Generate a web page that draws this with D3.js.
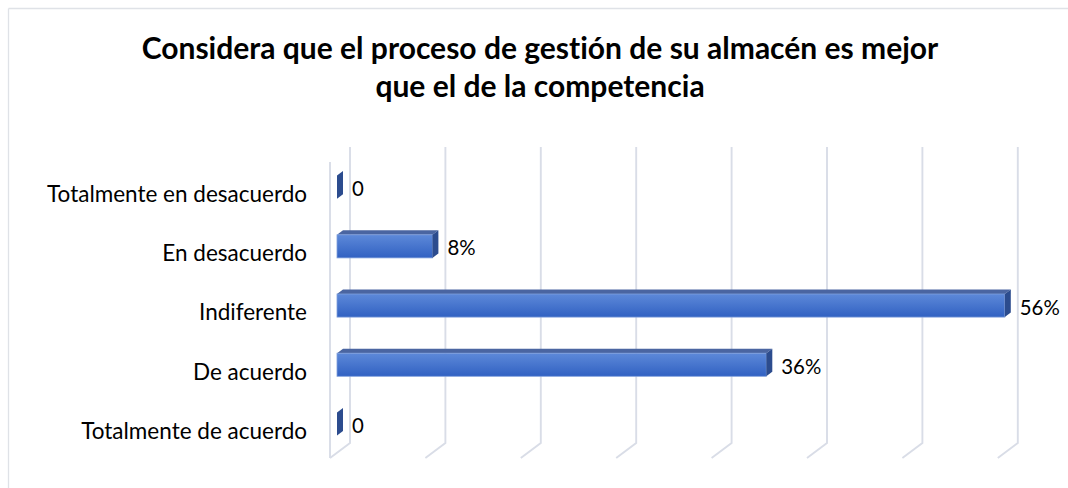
<!DOCTYPE html>
<html><head><meta charset="utf-8">
<script src="https://cdn.jsdelivr.net/npm/d3@7"></script>
<style>html,body{margin:0;padding:0;background:#fff;}svg{display:block;}text{font-variant-ligatures:none;font-feature-settings:"liga" 0;}</style>
</head><body>
<script>
const titleLines = ["Considera que el proceso de gestión de su almacén es mejor", "que el de la competencia"];
const categories = ["Totalmente en desacuerdo", "En desacuerdo", "Indiferente", "De acuerdo", "Totalmente de acuerdo"];
const values = [0, 0.08, 0.56, 0.36, 0];
const valueLabels = ["0", "8%", "56%", "36%", "0"];
const tickValues = [0, 0.08, 0.16, 0.24, 0.32, 0.40, 0.48, 0.56];

const W = 1068, H = 488;
const FONT = "Lato, 'Open Sans', sans-serif";
const svg = d3.select("body").append("svg").attr("width", W).attr("height", H);

// chart border (top and left visible)
svg.append("line").attr("x1", 8.5).attr("x2", W).attr("y1", 8.5).attr("y2", 8.5).attr("stroke", "#dfe2e7").attr("stroke-width", 1.3);
svg.append("line").attr("x1", 8.5).attr("x2", 8.5).attr("y1", 8.5).attr("y2", H).attr("stroke", "#dfe2e7").attr("stroke-width", 1.3);

// scales on the back wall
const x = d3.scaleLinear().domain([0, 0.56]).range([350, 1017.8]);
const y = d3.scaleBand().domain(categories).range([147, 443]);
const DX = -20, DY = 15; // depth offset back -> front
const proj = (px, py, d) => [px + DX * d, py + DY * d];
const D1 = 0.35, D2 = 0.65; // bar depth
const barH = y.bandwidth() * 0.39;

const grid = "#d9dde7";
const g = svg.append("g");
tickValues.forEach(t => {
  const xb = x(t);
  const top = y.range()[0], bot = y.range()[1];
  const f = proj(xb, bot, 1);
  g.append("path").attr("d", `M${xb},${top}L${xb},${bot}L${f[0]},${f[1]}`)
    .attr("fill", "none").attr("stroke", grid).attr("stroke-width", 1.9);
});
{
  const a = proj(x(0), y.range()[0], 1), b = proj(x(0), y.range()[1], 1);
  g.append("line").attr("x1", a[0]).attr("y1", a[1]).attr("x2", b[0]).attr("y2", b[1])
    .attr("stroke", grid).attr("stroke-width", 1.9);
}

const defs = svg.append("defs");
const grad = defs.append("linearGradient").attr("id", "fg").attr("x1", 0).attr("x2", 0).attr("y1", 0).attr("y2", 1);
grad.append("stop").attr("offset", "0%").attr("stop-color", "#5d89d9");
grad.append("stop").attr("offset", "100%").attr("stop-color", "#3161c2");

const poly = pts => "M" + pts.map(p => p.join(",")).join("L") + "Z";

const bars = svg.append("g");
categories.forEach((c, i) => {
  const v = values[i];
  const yc = y(c) + y.bandwidth() / 2 + 0.8;
  const yt = yc - barH / 2, yb = yc + barH / 2;
  const x0 = x(0), xv = x(v);
  if (v > 0) {
    bars.append("path").attr("d", poly([proj(x0, yt, D1), proj(xv, yt, D1), proj(xv, yt, D2), proj(x0, yt, D2)]))
      .attr("fill", "#4a65a1");
    const a = proj(x0, yt, D2), b = proj(xv, yb, D2);
    bars.append("rect").attr("x", a[0]).attr("y", a[1]).attr("width", b[0] - a[0]).attr("height", b[1] - a[1])
      .attr("fill", "url(#fg)").attr("stroke", "#7f9fdc").attr("stroke-width", 0.8);
  }
  bars.append("path").attr("d", poly([proj(xv, yt, D1), proj(xv, yb, D1), proj(xv, yb, D2), proj(xv, yt, D2)]))
    .attr("fill", "#2c4c8e");
  const lp = proj(xv, yc, D1);
  svg.append("text").attr("class", "dl").attr("x", lp[0] + 9).attr("y", yc + DY * D2 + 1)
    .attr("dominant-baseline", "central").attr("font-family", FONT).attr("font-size", 18)
    .attr("fill", "#000").text(valueLabels[i]);
  svg.append("text").attr("class", "cl").attr("x", 307).attr("y", yc + DY + 1)
    .attr("text-anchor", "end").attr("dominant-baseline", "central")
    .attr("font-family", FONT).attr("font-size", 18).attr("fill", "#000").text(c);
});

const tl = svg.append("g");
titleLines.forEach((t, i) => {
  tl.append("text").attr("x", 540).attr("y", 58.5 + i * 38.5).attr("text-anchor", "middle")
    .attr("font-family", FONT).attr("font-weight", "bold").attr("font-size", 25).attr("fill", "#000").text(t);
});

function fit(sel, idx, target) {
  const n = sel.nodes()[idx];
  const w = n.getComputedTextLength();
  const fs = +d3.select(n).attr("font-size") * target / w;
  sel.attr("font-size", fs.toFixed(2));
}
fit(tl.selectAll("text"), 0, 797);
fit(svg.selectAll("text.cl"), 0, 260);
fit(svg.selectAll("text.dl"), 2, 40);
</script>
</body></html>
